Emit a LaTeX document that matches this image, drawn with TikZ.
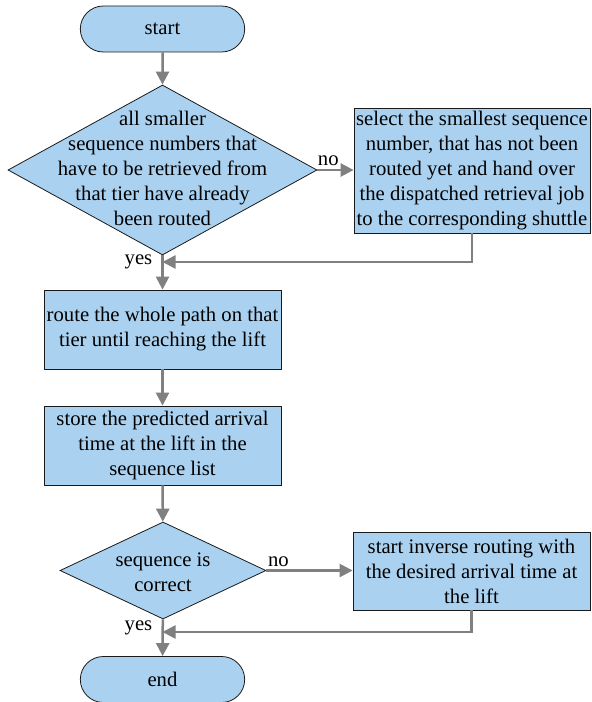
\documentclass[tikz,border=0pt]{standalone}
\usepackage{fontspec}
\setmainfont{LiberationSerif}[Extension=.ttf,UprightFont=*-Regular,BoldFont=*-Bold]
\usetikzlibrary{arrows.meta,positioning,calc,shapes.misc,shapes.geometric}
\definecolor{boxblue}{HTML}{AAD2F0}
\definecolor{flowgray}{HTML}{808080}
\definecolor{edge}{HTML}{1A1A1A}

\begin{document}
\begin{tikzpicture}[x=1bp,y=-1bp,
  font=\fontsize{20.7bp}{25bp}\selectfont,
  term/.style={draw=edge,fill=boxblue,rounded rectangle,minimum width=171bp,minimum height=46bp,line width=0.8bp},
  proc/.style={draw=edge,fill=boxblue,rectangle,align=center,inner sep=0pt,line width=0.8bp},
  dec/.style={draw=edge,fill=boxblue,diamond,inner sep=0pt,line width=0.8bp},
  flow/.style={flowgray,line width=2.5bp,-{Triangle[length=13bp,width=13bp]}},
  lbl/.style={inner sep=0pt,text=black}]
  \useasboundingbox (0,0) rectangle (592,702);
  % terminals
  \node[term] (start) at (162.5,29) {start};
  \node[term] (end) at (162.5,679.5) {end};
  % decisions
  \node[dec,minimum width=309bp,minimum height=170bp] (chk) at (162.5,170) {};
  \node[lbl,align=center] at (162.5,168) {all smaller\\sequence numbers that\\have to be retrieved from\\that tier have already\\been routed};
  \node[dec,minimum width=206bp,minimum height=97bp] (seq) at (163,570.5) {};
  \node[lbl,align=center] at (163,572.5) {sequence is\\correct};
  % process boxes
  \node[proc,minimum width=236bp,minimum height=125bp] (pick) at (472,170.5) {select the smallest sequence\\number, that has not been\\routed yet and hand over\\the dispatched retrieval job\\to the corresponding shuttle};
  \node[proc,minimum width=237bp,minimum height=79bp] (route) at (162.5,329.5) {route the whole path on that\\tier until reaching the lift};
  \node[proc,minimum width=237bp,minimum height=79bp] (store) at (162.5,445.5) {store the predicted arrival\\time at the lift in the\\sequence list};
  \node[proc,minimum width=237bp,minimum height=78bp] (inv) at (471.5,571) {start inverse routing with\\the desired arrival time at\\the lift};
  \coordinate (j1) at (162.5,262);
  \coordinate (j2) at (162.5,632);
  % connectors
  \draw[flow] (start) -- (chk);
  \draw[flow] (chk.east) -- node[lbl,pos=0.3,above=3bp]{no} (chk.east -| pick.west);
  \draw[flow] (pick.south) |- (j1);
  \node[lbl,left=10bp of j1] {yes};
  \draw[flow] (chk) -- (route);
  \draw[flow] (route) -- (store);
  \draw[flow] (store) -- (seq);
  \draw[flow] (seq.east) -- node[lbl,pos=0.14,above=3bp]{no} (seq.east -| inv.west);
  \draw[flow] (inv.south) |- (j2);
  \node[lbl,left=10bp of j2,yshift=4bp] {yes};
  \draw[flow] (seq) -- (end);
\end{tikzpicture}
\end{document}
